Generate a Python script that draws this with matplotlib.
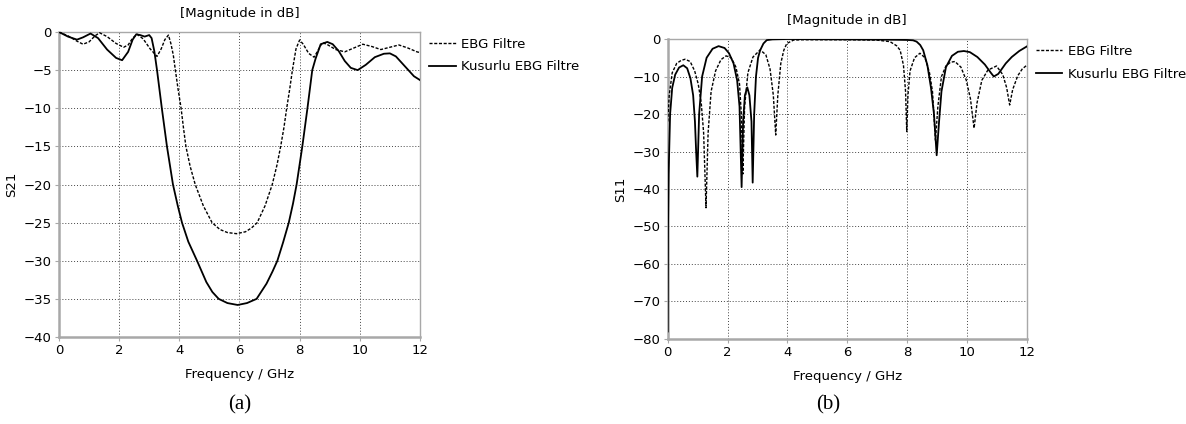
import matplotlib.pyplot as plt

plt.rcParams['font.family'] = ['DejaVu Sans']

# ---- (a) S21 ----
f21_ebg = [0, 0.3, 0.6, 0.8, 1.0, 1.2, 1.35, 1.6, 1.9, 2.15, 2.3, 2.45, 2.6, 2.8, 3.03,
           3.26, 3.4, 3.52, 3.64, 3.72, 3.8, 3.87, 3.96, 4.06, 4.14, 4.22, 4.36, 4.53, 4.8, 5.09,
           5.35, 5.6, 5.9, 6.2, 6.4, 6.59, 6.85, 7.09, 7.25, 7.37, 7.48, 7.57, 7.67, 7.76, 7.88, 8.0,
           8.12, 8.3, 8.48, 8.6, 8.75, 8.9, 9.2, 9.5, 9.8, 10.1, 10.4, 10.7, 11.0,
           11.3, 11.6, 11.9, 12]
s21_ebg = [0, -0.5, -1.2, -1.6, -1.3, -0.5, -0.1, -0.6, -1.5, -2.0, -1.7, -0.8, -0.3, -0.9, -2.2,
           -3.2, -2.2, -1.0, -0.4, -1.5, -3.0, -5.0, -7.5, -10.0, -12.6, -15.0, -17.6, -20.0, -22.8, -25.0,
           -25.9, -26.3, -26.45, -26.2, -25.7, -25.0, -22.8, -20.0, -17.4, -15.0, -12.5, -10.0, -7.5, -5.0, -2.2, -1.05,
           -1.6, -2.8, -3.3, -2.5, -1.4, -1.6, -2.3, -2.6, -2.1, -1.6, -1.9, -2.3, -2.0,
           -1.7, -2.1, -2.6, -2.7]

f21_kus = [0, 0.3, 0.6, 0.8, 1.05, 1.3, 1.6, 1.9, 2.1, 2.3, 2.45, 2.57, 2.7, 2.85, 3.0,
           3.08, 3.17, 3.26, 3.42, 3.59, 3.79, 3.95, 4.09, 4.3, 4.59, 4.9, 5.1, 5.31, 5.6, 5.94,
           6.25, 6.57, 6.9, 7.1, 7.26, 7.45, 7.64, 7.78, 7.9, 8.09, 8.26, 8.42, 8.53,
           8.7, 8.92, 9.1, 9.3, 9.5, 9.7, 9.93, 10.2, 10.5, 10.8, 11.0, 11.2, 11.5,
           11.8, 12]
s21_kus = [0, -0.6, -1.0, -0.7, -0.2, -0.8, -2.3, -3.4, -3.7, -2.6, -1.0, -0.3, -0.4, -0.6, -0.4,
           -0.8, -2.5, -5.0, -10.0, -15.0, -20.0, -22.8, -25.0, -27.5, -30.0, -32.8, -34.1, -35.0, -35.55, -35.8,
           -35.55, -35.0, -33.0, -31.4, -30.0, -27.6, -25.0, -22.5, -20.0, -15.0, -10.0, -5.0, -3.5,
           -1.6, -1.3, -1.6, -2.5, -3.8, -4.7, -5.0, -4.3, -3.3, -2.85, -2.8, -3.2, -4.5,
           -5.8, -6.3]

# ---- (b) S11 ----
f11_ebg = [0, 0.05, 0.15, 0.3, 0.45, 0.58, 0.75, 0.9, 1.02, 1.12, 1.2, 1.28, 1.35, 1.45, 1.6,
           1.78, 1.95, 2.12, 2.28, 2.4, 2.46, 2.51, 2.57, 2.68, 2.85, 3.09, 3.28, 3.42, 3.53,
           3.61, 3.68, 3.78, 3.88, 3.98, 4.2, 4.5, 6.0, 7.0, 7.43, 7.65, 7.77, 7.88, 7.95, 7.99,
           8.03, 8.1, 8.25, 8.43, 8.6, 8.75, 8.85, 8.95, 9.03, 9.15, 9.3, 9.45, 9.6, 9.8,
           9.98, 10.12, 10.24, 10.34, 10.5, 10.7, 10.99, 11.2, 11.33, 11.43, 11.53, 11.7, 11.85, 12]
s11_ebg = [-22, -15, -9, -6.5, -5.7, -5.4, -6.0, -8.5, -12, -17, -25, -45, -25, -14, -8.5,
           -5.5, -4.5, -5.0, -7.5, -12, -20, -36, -18, -9, -4.8, -2.9, -4.2, -8, -15,
           -25.6, -15, -6.5, -3.0, -1.2, -0.3, -0.2, -0.2, -0.3, -0.7, -1.8, -3.0, -7, -14, -24.7,
           -15, -8.5, -5, -3.8, -5, -9, -14, -27, -18, -10, -7.2, -6.2, -6.0, -7.5,
           -11, -16, -23.8, -17, -11, -8.3, -7.2, -9.5, -13, -17.6, -13.5, -9.8, -8, -7]

f11_kus = [0, 0.01, 0.03, 0.08, 0.15, 0.25, 0.38, 0.52, 0.65, 0.76, 0.85, 0.91, 0.95, 0.99, 1.05,
           1.15, 1.3, 1.5, 1.7, 1.9, 2.05, 2.2, 2.32, 2.4, 2.47, 2.52, 2.58, 2.66,
           2.73, 2.8, 2.84, 2.89, 2.95, 3.02, 3.09, 3.2, 3.31, 3.5, 4.0, 5.0, 6.0, 7.0, 7.6,
           8.0, 8.2, 8.32, 8.44, 8.54, 8.68, 8.8, 8.9, 8.99, 9.07, 9.15, 9.3, 9.5, 9.7,
           9.9, 10.1, 10.35, 10.6, 10.8, 10.9, 11.05, 11.3, 11.5, 11.75, 12]
s11_kus = [-78, -50, -36, -20, -13, -9.5, -7.6, -7.0, -7.8, -10.5, -15, -22, -30, -36.7, -20,
           -10, -5, -2.6, -1.9, -2.4, -3.8, -6.5, -11, -18, -39.5, -22, -15, -12.9,
           -15, -22, -38.3, -20, -10, -5, -3, -1.2, -0.3, -0.1, 0, -0.05, -0.1, -0.15, -0.2,
           -0.25, -0.35, -0.7, -1.6, -3.0, -7, -13, -20, -31, -22, -14, -7.5, -4.5, -3.4,
           -3.2, -3.5, -4.8, -6.8, -9.0, -10, -9.3, -6.5, -4.8, -3.2, -2.0]

freq_ticks = [0, 2, 4, 6, 8, 10, 12]

fig = plt.figure(figsize=(11.86, 4.24), dpi=100)
ax1 = fig.add_axes([0.0497, 0.2052, 0.3044, 0.7193])
ax2 = fig.add_axes([0.563, 0.2005, 0.3027, 0.7075])

dash = (0, (2.2, 1.2))
spine_col = '#a8a8a8'

def style(ax, ylim, ystep, ylab):
    ax.set_xlim(0, 12)
    ax.set_ylim(*ylim)
    ax.set_xticks(freq_ticks)
    ax.set_yticks(range(ylim[0], 1, ystep))
    ax.grid(True, color='#444444', linestyle=(0, (1, 2)), lw=0.7)
    for s in ax.spines.values():
        s.set_color(spine_col)
        s.set_linewidth(1.0)
    ax.spines['left'].set_linewidth(1.8)
    ax.spines['bottom'].set_linewidth(1.8)
    ax.tick_params(labelsize=9.5, length=3, color=spine_col, pad=2)
    ax.set_xlabel("Frequency / GHz", fontsize=9.5, labelpad=8)
    ax.set_ylabel(ylab, fontsize=9.5, labelpad=4)
    ax.set_title("[Magnitude in dB]", fontsize=9.5, pad=11)

ax1.plot(f21_ebg, s21_ebg, color='black', lw=1.0, linestyle=dash, label="EBG Filtre", zorder=3)
ax1.plot(f21_kus, s21_kus, color='black', lw=1.3, label="Kusurlu EBG Filtre", zorder=3)
style(ax1, (-40, 0), 5, "S21")

ax2.plot(f11_ebg, s11_ebg, color='black', lw=1.0, linestyle=dash, label="EBG Filtre", zorder=3)
ax2.plot(f11_kus, s11_kus, color='black', lw=1.3, label="Kusurlu EBG Filtre", zorder=3)
style(ax2, (-80, 0), 10, "S11")

for ax in (ax1, ax2):
    ax.legend(loc='upper left', bbox_to_anchor=(1.0, 1.012), frameon=False, fontsize=9.5,
              handlelength=2.0, handletextpad=0.4, labelspacing=0.75, borderaxespad=0.3)

fig.text(0.2025, 0.045, "(a)", ha='center', va='center', fontsize=15, family='Liberation Serif')
fig.text(0.698, 0.045, "(b)", ha='center', va='center', fontsize=15, family='Liberation Serif')

fig.savefig("out.png", dpi=100)
